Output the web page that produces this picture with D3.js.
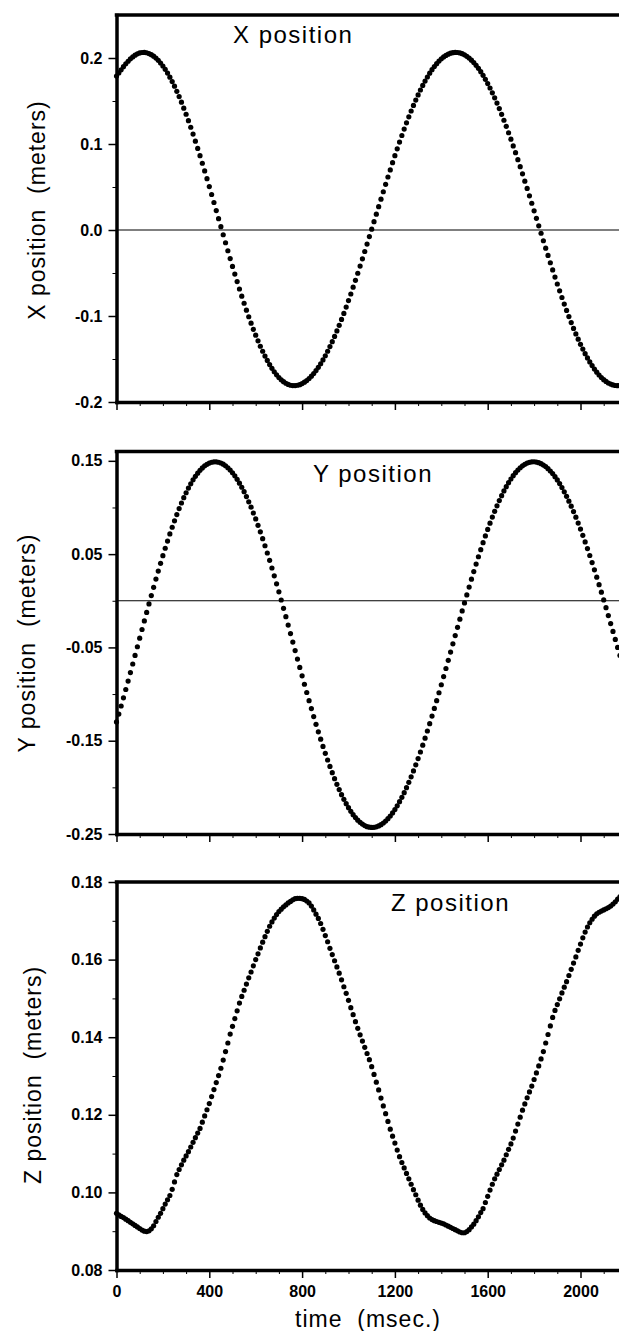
<!DOCTYPE html>
<html>
<head>
<meta charset="utf-8">
<script src="https://cdn.jsdelivr.net/npm/d3@7"></script>
<style>
  body { margin: 0; background: #fff; }
  svg { display: block; font-family: "Liberation Sans", Arial, Helvetica, sans-serif; }
  .axis path, .axis line { stroke: #000; }
  .axis text { fill: #000; font-weight: bold; font-size: 16px; }
</style>
</head>
<body>
<div id="chart"></div>
<script>
// sampling of the recording, one value every 10 msec.
var time_start = 0;
var time_end   = 2200;
var time_step  = 10;

var x_position = [
  0.1790, 0.1827, 0.1863, 0.1899, 0.1932, 0.1962, 0.1990, 0.2013, 0.2033, 0.2048,
  0.2059, 0.2064, 0.2065, 0.2061, 0.2052, 0.2039, 0.2021, 0.1999, 0.1973, 0.1942,
  0.1907, 0.1868, 0.1825, 0.1777, 0.1726, 0.1672, 0.1613, 0.1551, 0.1486, 0.1417,
  0.1346, 0.1271, 0.1195, 0.1115, 0.1033, 0.0949, 0.0864, 0.0776, 0.0687, 0.0597,
  0.0505, 0.0413, 0.0320, 0.0226, 0.0132, 0.0039, -0.0055, -0.0148, -0.0241, -0.0332,
  -0.0423, -0.0512, -0.0600, -0.0686, -0.0770, -0.0852, -0.0932, -0.1009, -0.1083, -0.1155,
  -0.1223, -0.1289, -0.1352, -0.1410, -0.1466, -0.1517, -0.1565, -0.1609, -0.1648, -0.1684,
  -0.1715, -0.1742, -0.1764, -0.1782, -0.1796, -0.1805, -0.1809, -0.1809, -0.1805, -0.1798,
  -0.1786, -0.1770, -0.1751, -0.1727, -0.1700, -0.1669, -0.1635, -0.1597, -0.1555, -0.1511,
  -0.1462, -0.1410, -0.1356, -0.1299, -0.1238, -0.1174, -0.1109, -0.1040, -0.0970, -0.0896,
  -0.0821, -0.0744, -0.0665, -0.0585, -0.0503, -0.0419, -0.0335, -0.0250, -0.0164, -0.0077,
  0.0010, 0.0097, 0.0184, 0.0271, 0.0358, 0.0445, 0.0531, 0.0616, 0.0699, 0.0783,
  0.0864, 0.0944, 0.1022, 0.1099, 0.1173, 0.1246, 0.1316, 0.1384, 0.1449, 0.1511,
  0.1571, 0.1628, 0.1681, 0.1732, 0.1779, 0.1823, 0.1864, 0.1901, 0.1934, 0.1964,
  0.1990, 0.2012, 0.2030, 0.2045, 0.2056, 0.2062, 0.2065, 0.2064, 0.2059, 0.2050,
  0.2037, 0.2020, 0.1999, 0.1975, 0.1947, 0.1915, 0.1880, 0.1841, 0.1798, 0.1752,
  0.1703, 0.1651, 0.1595, 0.1537, 0.1476, 0.1412, 0.1345, 0.1276, 0.1205, 0.1131,
  0.1056, 0.0978, 0.0899, 0.0818, 0.0736, 0.0653, 0.0568, 0.0483, 0.0397, 0.0311,
  0.0223, 0.0136, 0.0049, -0.0038, -0.0125, -0.0211, -0.0296, -0.0381, -0.0464, -0.0547,
  -0.0628, -0.0707, -0.0785, -0.0861, -0.0935, -0.1007, -0.1076, -0.1144, -0.1208, -0.1270,
  -0.1329, -0.1385, -0.1438, -0.1488, -0.1534, -0.1577, -0.1617, -0.1653, -0.1686, -0.1715,
  -0.1740, -0.1761, -0.1779, -0.1792, -0.1802, -0.1808, -0.1810, -0.1809, -0.1805, -0.1798,
  -0.1787
];

var y_position = [
  -0.1299, -0.1215, -0.1128, -0.1040, -0.0951, -0.0861, -0.0770, -0.0678, -0.0586, -0.0493,
  -0.0401, -0.0308, -0.0216, -0.0125, -0.0034, 0.0056, 0.0144, 0.0232, 0.0318, 0.0401,
  0.0483, 0.0563, 0.0640, 0.0716, 0.0788, 0.0857, 0.0924, 0.0988, 0.1048, 0.1105,
  0.1158, 0.1208, 0.1254, 0.1296, 0.1334, 0.1368, 0.1398, 0.1424, 0.1446, 0.1463,
  0.1476, 0.1485, 0.1489, 0.1489, 0.1485, 0.1477, 0.1464, 0.1447, 0.1426, 0.1401,
  0.1372, 0.1339, 0.1302, 0.1261, 0.1217, 0.1169, 0.1117, 0.1061, 0.1003, 0.0941,
  0.0877, 0.0809, 0.0739, 0.0666, 0.0590, 0.0512, 0.0433, 0.0351, 0.0267, 0.0182,
  0.0096, 0.0008, -0.0081, -0.0170, -0.0261, -0.0352, -0.0443, -0.0534, -0.0625, -0.0715,
  -0.0805, -0.0895, -0.0983, -0.1071, -0.1156, -0.1241, -0.1324, -0.1405, -0.1484, -0.1561,
  -0.1635, -0.1707, -0.1776, -0.1843, -0.1907, -0.1967, -0.2024, -0.2078, -0.2128, -0.2175,
  -0.2218, -0.2257, -0.2293, -0.2324, -0.2352, -0.2375, -0.2394, -0.2410, -0.2421, -0.2427,
  -0.2430, -0.2428, -0.2423, -0.2413, -0.2400, -0.2382, -0.2361, -0.2336, -0.2307, -0.2274,
  -0.2238, -0.2198, -0.2154, -0.2107, -0.2057, -0.2003, -0.1946, -0.1887, -0.1824, -0.1759,
  -0.1691, -0.1621, -0.1548, -0.1473, -0.1396, -0.1317, -0.1236, -0.1154, -0.1071, -0.0986,
  -0.0900, -0.0813, -0.0726, -0.0638, -0.0550, -0.0461, -0.0373, -0.0285, -0.0197, -0.0109,
  -0.0023, 0.0063, 0.0147, 0.0231, 0.0313, 0.0393, 0.0472, 0.0548, 0.0623, 0.0695,
  0.0765, 0.0832, 0.0897, 0.0959, 0.1018, 0.1074, 0.1127, 0.1177, 0.1223, 0.1266,
  0.1305, 0.1341, 0.1373, 0.1401, 0.1426, 0.1446, 0.1463, 0.1476, 0.1484, 0.1489,
  0.1490, 0.1487, 0.1480, 0.1470, 0.1455, 0.1438, 0.1416, 0.1391, 0.1363, 0.1330,
  0.1295, 0.1256, 0.1214, 0.1168, 0.1120, 0.1068, 0.1014, 0.0956, 0.0896, 0.0833,
  0.0768, 0.0701, 0.0631, 0.0559, 0.0485, 0.0409, 0.0332, 0.0253, 0.0173, 0.0092,
  0.0009, -0.0074, -0.0159, -0.0244, -0.0329, -0.0414, -0.0500, -0.0586, -0.0671, -0.0756,
  -0.0840
];

var z_position = [
  0.0946, 0.0942, 0.0938, 0.0935, 0.0931, 0.0927, 0.0923, 0.0919, 0.0915, 0.0911,
  0.0907, 0.0903, 0.0900, 0.0899, 0.0901, 0.0906, 0.0914, 0.0925, 0.0936, 0.0946,
  0.0958, 0.0970, 0.0981, 0.0992, 0.1008, 0.1027, 0.1046, 0.1059, 0.1071, 0.1083,
  0.1094, 0.1105, 0.1117, 0.1129, 0.1141, 0.1153, 0.1165, 0.1181, 0.1197, 0.1213,
  0.1229, 0.1247, 0.1265, 0.1283, 0.1301, 0.1320, 0.1341, 0.1363, 0.1385, 0.1408,
  0.1428, 0.1448, 0.1468, 0.1488, 0.1505, 0.1521, 0.1537, 0.1553, 0.1568, 0.1584,
  0.1600, 0.1615, 0.1630, 0.1645, 0.1659, 0.1673, 0.1686, 0.1697, 0.1707, 0.1716,
  0.1724, 0.1730, 0.1736, 0.1741, 0.1746, 0.1750, 0.1754, 0.1757, 0.1758, 0.1758,
  0.1757, 0.1755, 0.1751, 0.1746, 0.1738, 0.1728, 0.1717, 0.1706, 0.1693, 0.1678,
  0.1662, 0.1646, 0.1629, 0.1613, 0.1597, 0.1581, 0.1565, 0.1548, 0.1530, 0.1513,
  0.1495, 0.1476, 0.1458, 0.1440, 0.1423, 0.1406, 0.1390, 0.1374, 0.1358, 0.1342,
  0.1324, 0.1304, 0.1284, 0.1264, 0.1243, 0.1223, 0.1203, 0.1183, 0.1163, 0.1145,
  0.1127, 0.1109, 0.1092, 0.1077, 0.1063, 0.1049, 0.1035, 0.1021, 0.1007, 0.0994,
  0.0980, 0.0967, 0.0956, 0.0947, 0.0940, 0.0934, 0.0930, 0.0927, 0.0925, 0.0923,
  0.0921, 0.0919, 0.0916, 0.0913, 0.0910, 0.0907, 0.0904, 0.0901, 0.0898, 0.0896,
  0.0896, 0.0899, 0.0904, 0.0911, 0.0918, 0.0927, 0.0937, 0.0948, 0.0958, 0.0974,
  0.0990, 0.1006, 0.1021, 0.1035, 0.1047, 0.1059, 0.1071, 0.1083, 0.1097, 0.1111,
  0.1125, 0.1140, 0.1158, 0.1176, 0.1194, 0.1212, 0.1228, 0.1244, 0.1259, 0.1274,
  0.1291, 0.1308, 0.1326, 0.1344, 0.1363, 0.1385, 0.1407, 0.1429, 0.1451, 0.1469,
  0.1484, 0.1499, 0.1514, 0.1529, 0.1543, 0.1559, 0.1575, 0.1591, 0.1607, 0.1624,
  0.1640, 0.1656, 0.1671, 0.1684, 0.1695, 0.1704, 0.1712, 0.1718, 0.1722, 0.1725,
  0.1728, 0.1731, 0.1734, 0.1738, 0.1743, 0.1749, 0.1756, 0.1762, 0.1767, 0.1771,
  0.1774
];

// ticks and labels
var time_ticks        = [0, 400, 800, 1200, 1600, 2000];
var time_tick_labels  = ["0", "400", "800", "1200", "1600", "2000"];
var time_minor_ticks  = [100, 200, 300, 500, 600, 700, 900, 1000, 1100, 1300, 1400, 1500, 1700, 1800, 1900, 2100];

var x_ticks        = [-0.2, -0.1, 0.0, 0.1, 0.2];
var x_tick_labels  = ["-0.2", "-0.1", "0.0", "0.1", "0.2"];
var x_minor_ticks  = [-0.15, -0.05, 0.05, 0.15];

var y_ticks        = [-0.25, -0.15, -0.05, 0.05, 0.15];
var y_tick_labels  = ["-0.25", "-0.15", "-0.05", "0.05", "0.15"];
var y_minor_ticks  = [-0.2, -0.1, 0.0, 0.1];

var z_ticks        = [0.08, 0.10, 0.12, 0.14, 0.16, 0.18];
var z_tick_labels  = ["0.08", "0.10", "0.12", "0.14", "0.16", "0.18"];
var z_minor_ticks  = [0.09, 0.11, 0.13, 0.15, 0.17];

var panel_titles   = ["X position", "Y position", "Z position"];
var axis_titles    = ["X position  (meters)", "Y position  (meters)", "Z position  (meters)"];
var time_title     = "time  (msec.)";

var width_chart  = 619;
var height_chart = 1331;
var left_chart   = 116.5;

var svg_chart = d3.select("#chart").append("svg")
  .attr("width", width_chart)
  .attr("height", height_chart);

var times = d3.range(time_start, time_end + time_step / 2, time_step);

var x_time = d3.scaleLinear()
  .domain([time_start, time_end])
  .range([left_chart, left_chart + 2200 * 0.232]);

var panels = [
  {values:x_position, domain:[-0.2, 0.25], top:15, bottom:402, ticks:x_ticks, labels:x_tick_labels, minor:x_minor_ticks,
   zero:true, title:panel_titles[0], title_x:233, title_anchor:"start", title_y:43, axis_title:axis_titles[0], axis_title_x:45, axis_title_y:210},
  {values:y_position, domain:[-0.25, 0.16], top:451.5, bottom:834, ticks:y_ticks, labels:y_tick_labels, minor:y_minor_ticks,
   zero:true, title:panel_titles[1], title_x:433, title_anchor:"end", title_y:482, axis_title:axis_titles[1], axis_title_x:35, axis_title_y:643},
  {values:z_position, domain:[0.08, 0.18], top:882, bottom:1270, ticks:z_ticks, labels:z_tick_labels, minor:z_minor_ticks,
   zero:false, title:panel_titles[2], title_x:510, title_anchor:"end", title_y:911, axis_title:axis_titles[2], axis_title_x:41, axis_title_y:1075}
];

function draw_panel (panel, index) {
  var y_panel = d3.scaleLinear()
    .domain(panel.domain)
    .range([panel.bottom, panel.top]);

  var g_panel = svg_chart.append("g").attr("class", "panel");

  // thin zero line
  if (panel.zero) {
    g_panel.append("line")
      .attr("x1", left_chart).attr("x2", width_chart + 10)
      .attr("y1", y_panel(0)).attr("y2", y_panel(0))
      .attr("stroke", "#000")
      .attr("stroke-width", 1.2);
  }

  // heavy top border
  g_panel.append("line")
    .attr("x1", left_chart).attr("x2", width_chart + 10)
    .attr("y1", panel.top).attr("y2", panel.top)
    .attr("stroke", "#000")
    .attr("stroke-width", 3.5)
    .attr("stroke-linecap", "square");

  // minor ticks
  g_panel.append("g")
    .attr("class", "axis")
    .attr("transform", "translate(" + left_chart + ",0)")
    .call(d3.axisLeft(y_panel).tickValues(panel.minor).tickSize(4).tickSizeOuter(0).tickFormat(""))
    .call(function (g) { g.select(".domain").remove(); });

  g_panel.append("g")
    .attr("class", "axis")
    .attr("transform", "translate(0," + panel.bottom + ")")
    .call(d3.axisBottom(x_time).tickValues(time_minor_ticks).tickSize(4).tickSizeOuter(0).tickFormat(""))
    .call(function (g) { g.select(".domain").remove(); });

  // major ticks
  var axis_left = g_panel.append("g")
    .attr("class", "axis")
    .attr("transform", "translate(" + left_chart + ",0)")
    .call(d3.axisLeft(y_panel)
      .tickValues(panel.ticks)
      .tickSizeInner(8)
      .tickSizeOuter(0)
      .tickPadding(6)
      .tickFormat(function (d, i) { return panel.labels[i]; }));
  axis_left.selectAll(".tick line").attr("stroke-width", 1.5);

  var axis_bottom = g_panel.append("g")
    .attr("class", "axis")
    .attr("transform", "translate(0," + panel.bottom + ")")
    .call(d3.axisBottom(x_time)
      .tickValues(time_ticks)
      .tickSizeInner(8)
      .tickSizeOuter(0)
      .tickPadding(8)
      .tickFormat(function (d, i) { return index == 2 ? time_tick_labels[i] : ""; }));
  axis_bottom.selectAll(".tick line").attr("stroke-width", 1.5);

  axis_left.select(".domain").attr("stroke-width", 3.5).attr("stroke-linecap", "square");
  axis_bottom.select(".domain").attr("stroke-width", 3.5).attr("stroke-linecap", "square");

  // the sampled points
  g_panel.append("g")
    .selectAll("circle")
    .data(panel.values)
    .join("circle")
    .attr("cx", function (d, i) { return x_time(times[i]); })
    .attr("cy", function (d) { return y_panel(d); })
    .attr("r", 2.6)
    .attr("fill", "#000");

  g_panel.append("text")
    .attr("x", panel.title_x)
    .attr("y", panel.title_y)
    .attr("text-anchor", panel.title_anchor)
    .style("font-size", "24px")
    .style("letter-spacing", "1.5px")
    .style("white-space", "pre")
    .text(panel.title);

  g_panel.append("text")
    .attr("transform", "translate(" + panel.axis_title_x + "," + panel.axis_title_y + ") rotate(-90)")
    .attr("text-anchor", "middle")
    .style("font-size", "23px")
    .style("letter-spacing", "1px")
    .style("white-space", "pre")
    .text(panel.axis_title);
}

panels.forEach(draw_panel);

svg_chart.append("text")
  .attr("x", 368)
  .attr("y", 1327)
  .attr("text-anchor", "middle")
  .style("font-size", "23px")
  .style("letter-spacing", "1px")
  .style("white-space", "pre")
  .text(time_title);
</script>
</body>
</html>
